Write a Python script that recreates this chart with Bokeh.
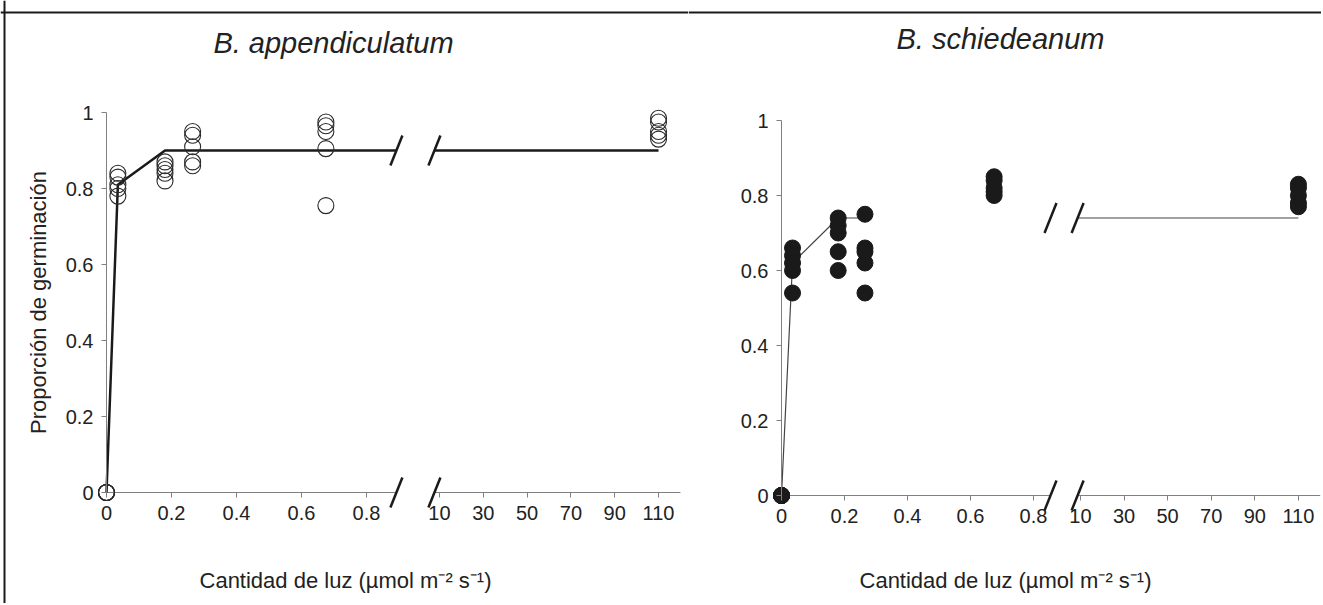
from bokeh.plotting import figure
from bokeh.layouts import row
from bokeh.models import Range1d, FixedTicker, Label, Span
from bokeh.embed import file_html
from bokeh.resources import INLINE

# ---------------- data ----------------
light = [0, 0.035, 0.18, 0.265, 0.675, 110]          # µmol m-2 s-1
app_germ = [                                          # B. appendiculatum
    [0, 0, 0, 0, 0],
    [0.84, 0.83, 0.81, 0.80, 0.78],
    [0.87, 0.86, 0.85, 0.84, 0.82],
    [0.95, 0.94, 0.91, 0.87, 0.86],
    [0.975, 0.965, 0.95, 0.905, 0.755],
    [0.985, 0.975, 0.95, 0.94, 0.93],
]
sch_germ = [                                          # B. schiedeanum
    [0, 0, 0, 0, 0],
    [0.66, 0.64, 0.62, 0.60, 0.54],
    [0.74, 0.72, 0.70, 0.65, 0.60],
    [0.75, 0.66, 0.65, 0.62, 0.54],
    [0.85, 0.84, 0.82, 0.81, 0.80],
    [0.83, 0.82, 0.80, 0.78, 0.77],
]
app_fit_x = [0, 0.035, 0.18, 110]
app_fit_y = [0, 0.81, 0.90, 0.90]
sch_fit_x = [0, 0.035, 0.18, 0.265, 110]
sch_fit_y = [0, 0.62, 0.74, 0.74, 0.74]

x_ticks_low = [0, 0.2, 0.4, 0.6, 0.8]
x_ticks_high = [10, 30, 50, 70, 90, 110]
x_tick_labels = ["0", "0.2", "0.4", "0.6", "0.8", "10", "30", "50", "70", "90", "110"]
y_ticks = [0, 0.2, 0.4, 0.6, 0.8, 1]
y_tick_labels = ["0", "0.2", "0.4", "0.6", "0.8", "1"]
axis_end_value = 120

titles = ["B. appendiculatum", "B. schiedeanum"]
x_title = "Cantidad de luz (\u00b5mol m\u207b\u00b2 s\u207b\u00b9)"
y_title = "Proporci\u00f3n de germinaci\u00f3n"

FONT = "Liberation Sans"
H = 603
INK = "#222222"
AXIS = "#808080"


def make_panel(W, x0, ppu, y0b, ppy, U10, S, blo, bhi, germ, fit_x, fit_y,
               extend_fit, open_marker, fit_width, fit_color, title, tcx, tcy,
               xlcx, xlcy, ylabel, left_border):
    def tu(v):
        return v if v < 1 else U10 + (v - 10) / 20.0 * S

    xr = Range1d(-x0 / ppu, (W - x0) / ppu)
    yr = Range1d(-y0b / ppy, (H - y0b) / ppy)
    p = figure(width=W, height=H, x_range=xr, y_range=yr, output_backend="svg",
               toolbar_location=None, min_border=0, outline_line_color=None,
               background_fill_color="white", border_fill_color="white")
    p.grid.visible = False

    # x axis
    ticks = [round(tu(v), 6) for v in x_ticks_low + x_ticks_high]
    xa = p.xaxis[0]
    xa.fixed_location = 0
    xa.ticker = FixedTicker(ticks=ticks)
    xa.major_label_overrides = {t: lab for t, lab in zip(ticks, x_tick_labels)}
    xa.axis_line_color = None
    xa.major_tick_line_color = AXIS
    xa.major_tick_out = 5
    xa.major_tick_in = 0
    xa.minor_tick_line_color = None
    xa.major_label_text_font = FONT
    xa.major_label_text_font_size = "20px"
    xa.major_label_text_color = INK
    xa.major_label_standoff = 8

    # y axis
    ya = p.yaxis[0]
    ya.fixed_location = 0
    ya.bounds = (0, 1)
    ya.ticker = FixedTicker(ticks=y_ticks)
    ya.major_label_overrides = {t: lab for t, lab in zip(y_ticks, y_tick_labels)}
    ya.axis_line_color = AXIS
    ya.major_tick_line_color = AXIS
    ya.major_tick_out = 5
    ya.major_tick_in = 0
    ya.minor_tick_line_color = None
    ya.major_label_text_font = FONT
    ya.major_label_text_font_size = "20px"
    ya.major_label_text_color = INK
    ya.major_label_standoff = 8
    if ylabel:
        ya.axis_label = ylabel
        ya.axis_label_text_font = FONT
        ya.axis_label_text_font_size = "22px"
        ya.axis_label_text_font_style = "normal"
        ya.axis_label_text_color = INK
        ya.axis_label_standoff = 12

    # broken x axis line
    p.segment(x0=[0, bhi], y0=[0, 0], x1=[blo, tu(axis_end_value)], y1=[0, 0],
              line_color=AXIS, line_width=1)

    # fitted line, broken at the axis break
    plateau = fit_y[-1]
    ax_ = [tu(v) for v in fit_x if v < 1]
    ay_ = [y for v, y in zip(fit_x, fit_y) if v < 1]
    if extend_fit:
        ax_.append(blo)
        ay_.append(plateau)
    p.line(ax_, ay_, line_color=fit_color, line_width=fit_width)
    p.line([bhi, tu(fit_x[-1])], [plateau, plateau], line_color=fit_color,
           line_width=fit_width)

    # break marks
    dx, dy = 6 / ppu, 15 / ppy
    bx0, by0, bx1, by1 = [], [], [], []
    for yc in (0, plateau):
        for b in (blo, bhi):
            bx0.append(b - dx); by0.append(yc - dy)
            bx1.append(b + dx); by1.append(yc + dy)
    p.segment(x0=bx0, y0=by0, x1=bx1, y1=by1, line_color="#1a1a1a", line_width=2.5)

    # points
    xs, ys = [], []
    for lv, reps in zip(light, germ):
        for g in reps:
            xs.append(tu(lv)); ys.append(g)
    if open_marker:
        p.scatter(xs, ys, marker="circle", size=16, fill_color=None,
                  line_color="#2a2a2a", line_width=1.1)
    else:
        p.scatter(xs, ys, marker="circle", size=16, fill_color="#1a1a1a",
                  line_color="#1a1a1a", line_width=1)

    # titles
    p.add_layout(Label(x=tcx, y=tcy, x_units="screen", y_units="screen", text=title,
                       text_font=FONT, text_font_style="italic", text_font_size="29px",
                       text_align="center", text_baseline="middle", text_color=INK))
    p.add_layout(Label(x=xlcx, y=xlcy, x_units="screen", y_units="screen", text=x_title,
                       text_font=FONT, text_font_size="22px", text_align="center",
                       text_baseline="middle", text_color=INK))

    # outer frame of the figure
    p.add_layout(Span(location=yr.end - 12 / ppy, dimension="width",
                      line_color="#1a1a1a", line_width=2))
    if left_border:
        p.add_layout(Span(location=xr.start + 4 / ppu, dimension="height",
                          line_color="#1a1a1a", line_width=2))
    return p


p1 = make_panel(W=688, x0=106, ppu=325, y0b=111, ppy=380,
                U10=1.0246, S=0.1348, blo=0.892, bhi=1.009,
                germ=app_germ, fit_x=app_fit_x, fit_y=app_fit_y, extend_fit=True,
                open_marker=True, fit_width=2.5, fit_color="#1a1a1a",
                title=titles[0], tcx=333, tcy=561, xlcx=345, xlcy=23, ylabel=y_title,
                left_border=True)
p2 = make_panel(W=633, x0=93, ppu=315, y0b=108, ppy=375,
                U10=0.949, S=0.1384, blo=0.854, bhi=0.940,
                germ=sch_germ, fit_x=sch_fit_x, fit_y=sch_fit_y, extend_fit=False,
                open_marker=False, fit_width=1.2, fit_color="#444444",
                title=titles[1], tcx=312, tcy=565, xlcx=317, xlcy=23, ylabel=None,
                left_border=False)

layout = row(p1, p2)
open("out.html", "w").write(file_html(layout, INLINE))
